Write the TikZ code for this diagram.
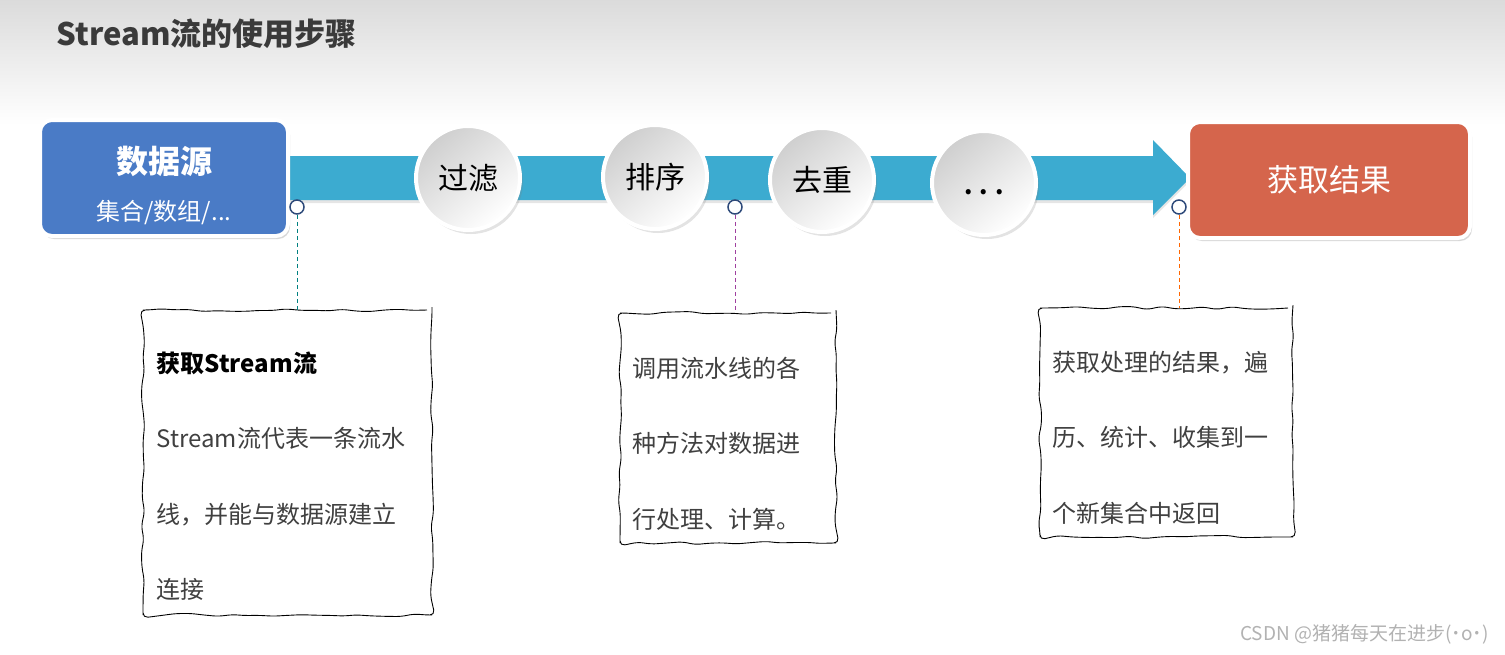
\documentclass[tikz,border=0pt]{standalone}
\usepackage{fontspec}
\setmainfont{Noto Sans CJK SC}
\usetikzlibrary{shadows, decorations.pathmorphing, calc}

\definecolor{barblue}{HTML}{3CABD0}
\definecolor{srcblue}{HTML}{4A7BC6}
\definecolor{resred}{HTML}{D5654C}
\definecolor{dotnavy}{HTML}{2E4A7A}
\definecolor{bodygray}{HTML}{404040}
\definecolor{titlegray}{HTML}{3A3A3A}

\begin{document}
\begin{tikzpicture}[x=1pt, y=-1pt]
    \tikzset{
		stage/.style={draw=white, line width=4pt, rectangle, rounded corners=12pt, minimum width=248pt, minimum height=116pt,
			drop shadow={opacity=0.3, shadow xshift=2pt, shadow yshift=-3pt}},
		ball/.style={draw=white, line width=4pt, circle, minimum size=104pt, top color=gray!38, bottom color=white, shading angle=40,
			drop shadow={opacity=0.22, shadow xshift=3pt, shadow yshift=-4pt}, font=\fontsize{30}{30}\selectfont},
		pin/.style={draw=dotnavy, line width=1.5pt, circle, fill=white, minimum size=14pt, inner sep=0pt},
		note/.style={rectangle, inner sep=0pt, draw=black, line width=0.9pt, decorate,
			decoration={random steps, segment length=14pt, amplitude=1.6pt}, rounded corners=5pt},
		notetext/.style={anchor=north west, align=left, inner sep=0pt, text=bodygray, font=\fontsize{24}{75.5}\selectfont},
		lead/.style={dashed, dash pattern=on 4pt off 3pt, line width=1pt}
	}
	\pgfmathsetseed{7}

	% --- Fondo ---
	\fill[white] (0,0) rectangle (1505,654);
	\shade[top color=gray!28, bottom color=white] (0,0) rectangle (1505,125);
	\node[anchor=base west, text=titlegray, font=\bfseries\fontsize{31}{31}\selectfont] (title) at (53,45) {Stream流的使用步骤};

	% --- Barra con flecha ---
	\fill[barblue, drop shadow={opacity=0.2, shadow xshift=0pt, shadow yshift=-3pt}]
		(288,156) -- (1153,156) -- (1153,140) -- (1190,178) -- (1153,215) -- (1153,200) -- (288,200) -- cycle;

	% --- Origen y resultado ---
	\node[stage, fill=srcblue] (src) at (164,178) {};
	\node[text=white, font=\bfseries\fontsize{32}{32}\selectfont] (srcname) at (164,161) {数据源};
	\node[text=white, font=\fontsize{24}{24}\selectfont] (srcsub) at (164,213) {集合/数组/...};
	\node[stage, fill=resred, minimum width=282pt] (res) at (1329,180) {};
	\node[text=white, font=\fontsize{31}{31}\selectfont] (resname) at (res.center) {获取结果};

	% --- Operaciones intermedias ---
	\node[ball] (filt) at (468,178) {过滤};
	\node[ball] (sort) at (655,177) {排序};
	\node[ball] (dedup) at (822,180) {去重};
	\node[ball] (more) at (984,183) {};
	\node[font=\bfseries\fontsize{24}{24}\selectfont] (dots) at ([yshift=-9pt]more.center) {.\hspace{7pt}.\hspace{7pt}.};

	% --- Puntos de anclaje ---
	\node[pin] (pinA) at (297,207) {};
	\node[pin] (pinB) at (735,207) {};
	\node[pin] (pinC) at (1179,207) {};

	% --- Notas ---
	\node[note, minimum width=289pt, minimum height=305pt] (note1) at (287.5,462.5) {};
	\node[note, minimum width=216pt, minimum height=230pt] (note2) at (728,428) {};
	\node[note, minimum width=253pt, minimum height=229pt] (note3) at (1166.5,422.5) {};

	\draw[lead, draw=teal] (pinA.south) -- (pinA.south |- note1.north);
	\draw[lead, draw=violet!75] (pinB.south) -- (pinB.south |- note2.north);
	\draw[lead, draw=orange!80!red] (pinC.south) -- (pinC.south |- note3.north);

	\node[notetext] (txt1) at ($(note1.north west)+(14,42)$)
		{{\bfseries\color{black}获取Stream流}\\Stream流代表一条流水\\线，并能与数据源建立\\连接};
	\node[notetext] (txt2) at ($(note2.north west)+(13,44)$)
		{调用流水线的各\\种方法对数据进\\行处理、计算。};
	\node[notetext] (txt3) at ($(note3.north west)+(13,43)$)
		{获取处理的结果，遍\\历、统计、收集到一\\个新集合中返回};

	% --- Marca ---
	\node[anchor=east, text=gray!60, font=\fontsize{19}{19}\selectfont] (mark) at (1492,634) {CSDN @猪猪每天在进步(˙o˙)};
\end{tikzpicture}
\end{document}
